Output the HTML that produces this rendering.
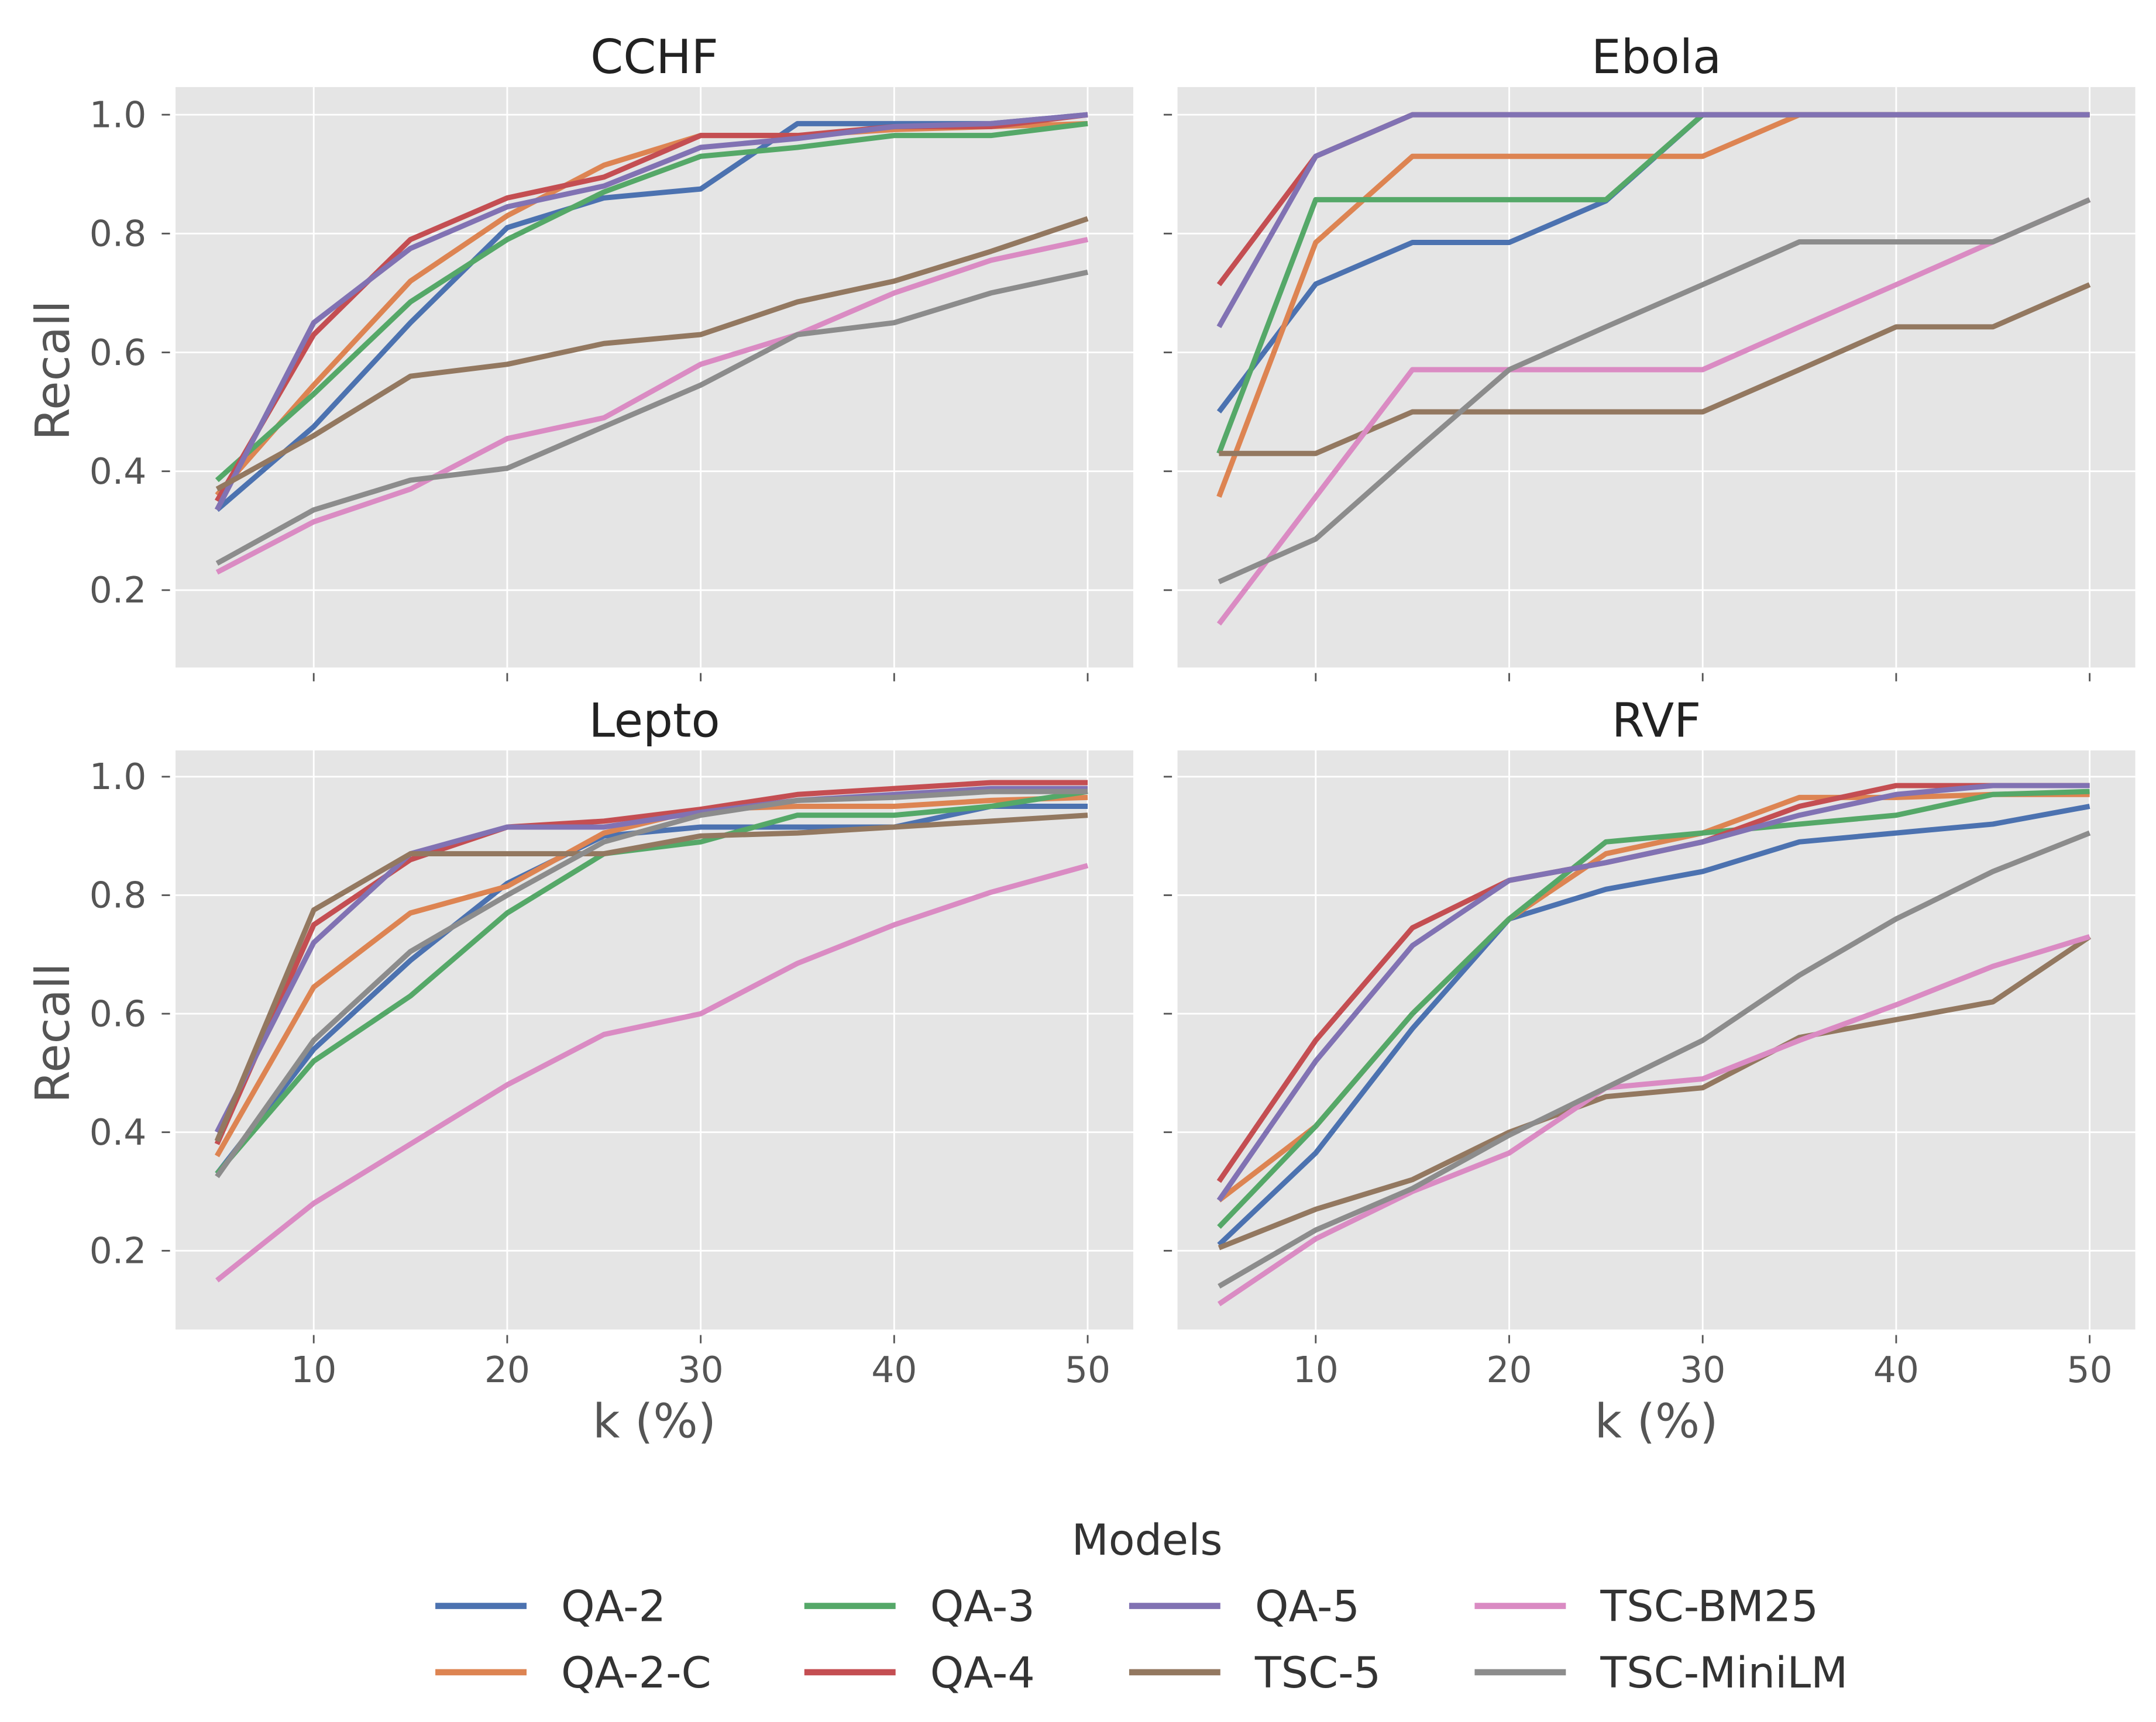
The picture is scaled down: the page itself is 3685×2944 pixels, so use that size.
<!DOCTYPE html>
<html><head><meta charset="utf-8"><style>
html,body{margin:0;padding:0;background:#fff}
svg{display:block}
text{font-family:"DejaVu Sans","Liberation Sans",sans-serif}
</style></head><body>
<svg id="chart" width="3685" height="2944" viewBox="0 0 1560 1246" preserveAspectRatio="none" xmlns="http://www.w3.org/2000/svg"></svg>
<script>
const kValues=[5,10,15,20,25,30,35,40,45,50];
const xTicks=[10,20,30,40,50];
const yTicks=[0.2,0.4,0.6,0.8,1.0];
const modelNames=["QA-2","QA-2-C","QA-3","QA-4","QA-5","TSC-5","TSC-BM25","TSC-MiniLM"];
const modelColors=["#4c72b0","#dd8452","#55a868","#c44e52","#8172b3","#937860","#da8bc3","#8c8c8c"];
const panelTitles=["CCHF","Ebola","Lepto","RVF"];
const cchf=[
[.335,.475,.65,.81,.86,.875,.985,.985,.985,1.0],
[.36,.545,.72,.83,.915,.965,.965,.975,.98,.985],
[.385,.53,.685,.79,.87,.93,.945,.965,.965,.985],
[.35,.63,.79,.86,.895,.965,.965,.98,.98,1.0],
[.335,.65,.775,.845,.88,.945,.96,.98,.985,1.0],
[.37,.46,.56,.58,.615,.63,.685,.72,.77,.825],
[.23,.315,.37,.455,.49,.58,.63,.70,.755,.79],
[.245,.335,.385,.405,.475,.545,.63,.65,.70,.735]];
const ebola=[
[.5,.715,.785,.785,.855,1,1,1,1,1],
[.357,.785,.93,.93,.93,.93,1,1,1,1],
[.43,.857,.857,.857,.857,1,1,1,1,1],
[.714,.93,1,1,1,1,1,1,1,1],
[.643,.93,1,1,1,1,1,1,1,1],
[.43,.43,.5,.5,.5,.5,.571,.643,.643,.714],
[.143,.357,.571,.571,.571,.571,.643,.714,.786,.857],
[.214,.286,.43,.571,.643,.714,.786,.786,.786,.857]];
const lepto=[
[.33,.54,.69,.82,.90,.915,.915,.915,.95,.95],
[.36,.645,.77,.815,.905,.945,.95,.95,.96,.965],
[.33,.52,.63,.77,.87,.89,.935,.935,.95,.975],
[.38,.75,.86,.915,.925,.945,.97,.98,.99,.99],
[.40,.72,.87,.915,.915,.94,.96,.97,.98,.98],
[.385,.775,.87,.87,.87,.90,.905,.915,.925,.935],
[.15,.28,.38,.48,.565,.60,.685,.75,.805,.85],
[.325,.555,.705,.80,.89,.935,.96,.965,.975,.975]];
const rvf=[
[.21,.365,.575,.76,.81,.84,.89,.905,.92,.95],
[.285,.41,.60,.76,.87,.905,.965,.965,.97,.97],
[.24,.41,.60,.76,.89,.905,.92,.935,.97,.975],
[.317,.555,.745,.825,.855,.89,.95,.985,.985,.985],
[.285,.52,.715,.825,.855,.89,.935,.97,.985,.985],
[.205,.27,.32,.40,.46,.475,.56,.59,.62,.73],
[.11,.22,.30,.365,.475,.49,.555,.615,.68,.73],
[.14,.235,.305,.395,.475,.555,.665,.76,.84,.905]];
const panelData=[cchf,ebola,lepto,rvf];

const NS="http://www.w3.org/2000/svg";
const svg=document.getElementById('chart');
function mk(tag,attrs,parent,txt){const e=document.createElementNS(NS,tag);for(const k in attrs)e.setAttribute(k,attrs[k]);if(txt!==undefined)e.textContent=txt;(parent||svg).appendChild(e);return e;}
const panels=[{x0:127,x1:820,y0:63,y1:483,y10:83,y02:427},{x0:852,x1:1545,y0:63,y1:483,y10:83,y02:427},
{x0:127,x1:820,y0:543,y1:962,y10:562,y02:905},{x0:852,x1:1545,y0:543,y1:962,y10:562,y02:905}];
panels.forEach((p,i)=>{
  const xs=v=>p.x0+100+(v-10)*(p.x1-p.x0-133)/40;
  const ys=v=>p.y02+(v-0.2)*(p.y10-p.y02)/0.8;
  const g=mk('g',{});
  
  
  const bg=mk('rect',{x:p.x0,y:p.y0,width:p.x1-p.x0,height:p.y1-p.y0,fill:'#e5e5e5'},g);
  
  xTicks.forEach(t=>{const l=mk('line',{x1:xs(t),x2:xs(t),y1:p.y0,y2:p.y1,stroke:'#fff','stroke-width':1.2},g);
    
    mk('line',{x1:xs(t),x2:xs(t),y1:p.y1+4,y2:p.y1+10,stroke:'#555','stroke-width':1.2},g);
    if(i>=2){const tx=mk('text',{x:xs(t),y:p.y1+38,'font-size':26,fill:'#555','text-anchor':'middle'},g,String(t));
      }});
  yTicks.forEach(t=>{const l=mk('line',{x1:p.x0,x2:p.x1,y1:ys(t),y2:ys(t),stroke:'#fff','stroke-width':1.2},g);
    
    mk('line',{x1:p.x0-10,x2:p.x0-4,y1:ys(t),y2:ys(t),stroke:'#555','stroke-width':1.2},g);
    if(i%2===0){const tx=mk('text',{x:p.x0-21,y:ys(t)+9,'font-size':26,fill:'#555','text-anchor':'end'},g,t.toFixed(1));
      }});
  const tt=mk('text',{x:(p.x0+p.x1)/2,y:p.y0-10,'font-size':34,fill:'#222','text-anchor':'middle'},g,panelTitles[i]);
  
  if(i%2===0){const yl=mk('text',{x:0,y:0,'font-size':34,fill:'#555','text-anchor':'middle',transform:`translate(50,${(p.y0+p.y1)/2-5}) rotate(-90)`},g,'Recall');
    }
  if(i>=2){const xl=mk('text',{x:(p.x0+p.x1)/2,y:1040,'font-size':34,fill:'#555','text-anchor':'middle'},g,'k (%)');
    }
  panelData[i].forEach((series,s)=>{
    const pts=series.map((v,j)=>xs(kValues[j]).toFixed(2)+','+ys(v).toFixed(2)).join(' ');
    const pl=mk('polyline',{points:pts,fill:'none',stroke:modelColors[s],'stroke-width':3.8,'stroke-linejoin':'round','stroke-linecap':'butt'},g);
    
    
  });
});
const lg=mk('g',{});


const lt=mk('text',{x:830,y:1125,'font-size':31,fill:'#333','text-anchor':'middle'},lg,'Models');

const colX=[315,582,817,1067];
modelNames.forEach((n,s)=>{
  const c=Math.floor(s/2),r=s%2;const y=1162+r*48;
  const e=mk('g',{},lg);
  
  
  mk('line',{x1:colX[c],x2:colX[c]+66,y1:y,y2:y,stroke:modelColors[s],'stroke-width':4.5},e);
  mk('text',{x:colX[c]+91,y:y+11,'font-size':31,fill:'#333'},e,n);
});
</script>
</body></html>
